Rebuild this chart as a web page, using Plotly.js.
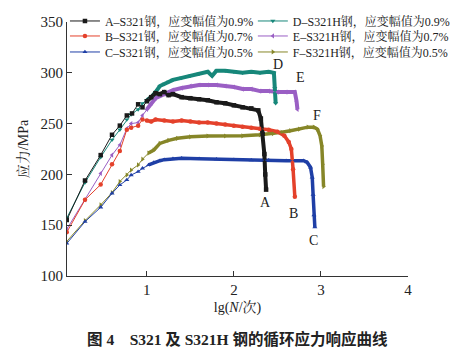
<!DOCTYPE html>
<html><head><meta charset="utf-8">
<script src="https://cdn.plot.ly/plotly-3.0.1.min.js"></script>
<style>html,body{margin:0;padding:0;background:#fff}#chart{width:456px;height:351px}</style>
</head><body><div id="chart"></div>
<script>
// ---- data ----
const names = ["A–S321钢，应变幅值为0.9%","B–S321钢，应变幅值为0.7%","C–S321钢，应变幅值为0.5%",
               "D–S321H钢，应变幅值为0.9%","E–S321H钢，应变幅值为0.7%","F–S321H钢，应变幅值为0.5%"];
const labels = ["A","B","C","D","E","F"];

const A_x = [0.08,0.29,0.47,0.60,0.69,0.77,0.83,0.90,0.95,1.00,1.05,1.10,1.15,1.20,1.25,1.30,1.40,1.50,1.60,1.70,1.80,1.90,2.00,2.10,2.20,2.28,2.31,2.33,2.35,2.36,2.37];
const A_y = [155,194,219,239,248,258,260,269,266,272,276,280,279,281,278,279,276,275,274,273,271,270,268,266,265,263,255,240,220,200,185];

const B_x = [0.08,0.29,0.47,0.60,0.69,0.77,0.82,0.90,0.95,1.00,1.05,1.10,1.20,1.30,1.40,1.50,1.60,1.70,1.80,1.90,2.00,2.10,2.20,2.30,2.40,2.50,2.58,2.63,2.66,2.68,2.70];
const B_y = [143,175,190,210,223,244,246,248,254,253,252,254,253,252,253,252,251,251,250,249,248,247,246,245,244,242,238,232,225,205,178];

const C_x = [0.08,0.29,0.47,0.60,0.69,0.77,0.82,0.90,0.95,1.02,1.08,1.15,1.20,1.30,1.40,1.60,1.80,2.00,2.20,2.40,2.60,2.80,2.84,2.88,2.90,2.91,2.92,2.93];
const C_y = [132,153.5,167.6,181.4,189.6,194.5,199.4,202.7,206,209.3,211.6,213.5,214.5,215.5,215.8,215.5,215,214.5,214,214,213.5,213.5,212,207,197,180,160,148];

const D_x = [0.08,0.29,0.47,0.60,0.69,0.77,0.82,0.90,0.95,1.00,1.05,1.10,1.15,1.20,1.25,1.30,1.40,1.50,1.60,1.70,1.75,1.80,1.90,2.00,2.10,2.20,2.30,2.40,2.46,2.47,2.48];
const D_y = [157,192,217,234,244,254,259,264,270,273,276,281,287,289,291,293,295,297,299,301,297,302,302,301,300,301,300,301,300,285,270];

const E_x = [0.08,0.29,0.47,0.60,0.69,0.77,0.82,0.90,0.95,1.00,1.05,1.10,1.20,1.30,1.40,1.50,1.60,1.70,1.80,1.90,2.00,2.10,2.20,2.30,2.40,2.50,2.60,2.70,2.72,2.73];
const E_y = [146,175,201,219,229,245,250,251,258,264,270,275,279,283,285,287,288,288,288,287,286,284,284,282,282,281,281,281,272,264];

const F_x = [0.08,0.29,0.47,0.60,0.69,0.77,0.82,0.90,0.95,1.02,1.08,1.15,1.25,1.35,1.50,1.70,1.90,2.10,2.30,2.45,2.55,2.65,2.75,2.85,2.92,2.96,2.99,3.01,3.02,3.03];
const F_y = [134,154.5,170,182,193,199.4,204.3,209.3,215,221,224,230.5,233.5,235.5,237,237.8,237.8,238,239,240,241.5,243,244.5,246.5,246.5,244.5,238,228,210,188];

// label positions for curve letters
const label_x = [2.36,2.68,2.92,2.51,2.76,2.96];
const label_y = [172,162,134.5,307.7,295,257.5];

const xTicks = [1,2,3,4];
const yTicks = [100,150,200,250,300,350];

// ---- styling ----
const colors = ["#1a1a1a","#e4412b","#1f3fa6","#17877a","#9a5fc4","#868628"];
const symbols = ["square","circle","triangle-up","triangle-down","triangle-left","triangle-right"];
const legendIds = ["legend","legend2","legend3","legend4","legend5","legend6"];
const bandWidth = [4,3.5,3.5,4,4,3.5];
const xs = [A_x,B_x,C_x,D_x,E_x,F_x];
const ys = [A_y,B_y,C_y,D_y,E_y,F_y];

const serif = "Liberation Serif, 'Noto Serif CJK SC', 'Noto Sans CJK SC', serif";
const traces = [];
const order = [5,4,3,2,1,0];
for (const i of order) {
  const bx = [], by = [];
  xs[i].forEach((v,k)=>{ if (v >= 1.0) { bx.push(v); by.push(ys[i][k]); } });
  traces.push({x:bx, y:by, type:"scatter", mode:"lines", showlegend:false, hoverinfo:"skip",
    line:{color:colors[i], width:bandWidth[i]}});
}
for (const i of order) {
  traces.push({x:xs[i], y:ys[i], type:"scatter", mode:"lines+markers", name:names[i],
    legend:legendIds[i],
    line:{color:colors[i], width:1}, marker:{symbol:symbols[i], size:4.5, color:colors[i]}});
}

// legend placement (paper coords): column x, row y
const legX = [-0.006,-0.006,-0.006,0.545,0.545,0.545];
const legY = [1.004,0.945,0.882,1.004,0.945,0.882];
const legendBase = {orientation:"v", xanchor:"left", yanchor:"middle", itemwidth:30,
  bgcolor:"rgba(0,0,0,0)", font:{family:serif, size:12, color:"#222"}};

const annotations = labels.map((t,i)=>({x:label_x[i], y:label_y[i], xref:"x", yref:"y", text:t,
  showarrow:false, font:{family:serif, size:14, color:"#222"}}));
annotations.push({x:0.5, y:-0.248, xref:"paper", yref:"paper", xanchor:"center", yanchor:"middle",
  text:"<b>图 4    S321 及 S321H 钢的循环应力响应曲线</b>", showarrow:false,
  font:{family:"Liberation Serif, 'Noto Sans CJK SC', sans-serif", size:15.5, color:"#222"}});

const layout = {
  width:456, height:351,
  margin:{l:67, r:48, t:22, b:75, autoexpand:false},
  paper_bgcolor:"#fff", plot_bgcolor:"#fff",
  font:{family:serif, color:"#222"},
  xaxis:{range:[0.083,4], tickvals:xTicks, ticks:"inside", ticklen:5, tickcolor:"#333",
    showline:true, linecolor:"#333", linewidth:1, showgrid:false, zeroline:false,
    tickfont:{family:serif, size:15, color:"#222"},
    title:{text:"lg(<i>N</i>/次)", font:{family:serif, size:14, color:"#222"}, standoff:5}},
  yaxis:{range:[100,350], tickvals:yTicks, ticks:"inside", ticklen:5, tickcolor:"#333",
    showline:true, linecolor:"#333", linewidth:1, showgrid:false, zeroline:false,
    tickfont:{family:serif, size:15, color:"#222"},
    title:{text:"应力/MPa", font:{family:serif, size:14, color:"#222"}, standoff:8}},
  annotations:annotations,
  showlegend:true
};
legendIds.forEach((id,i)=>{ layout[id] = Object.assign({}, legendBase, {x:legX[i], y:legY[i]}); });
Plotly.newPlot("chart", traces, layout, {displayModeBar:false, staticPlot:true});
</script>
</body></html>
